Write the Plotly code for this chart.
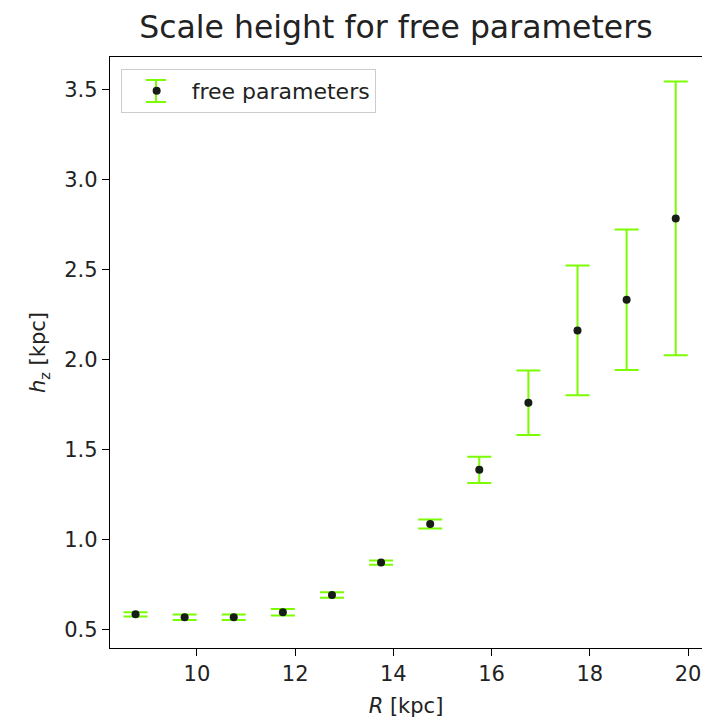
import plotly.graph_objects as go

R = [8.75, 9.75, 10.75, 11.75, 12.75, 13.75, 14.75, 15.75, 16.75, 17.75, 18.75, 19.75]
hz = [0.587, 0.571, 0.571, 0.598, 0.694, 0.874, 1.089, 1.389, 1.761, 2.163, 2.333, 2.785]
hz_err = [0.012, 0.015, 0.015, 0.018, 0.015, 0.012, 0.025, 0.073, 0.179, 0.36, 0.39, 0.76]

x_ticks = [10, 12, 14, 16, 18, 20]
y_ticks = [0.5, 1.0, 1.5, 2.0, 2.5, 3.0, 3.5]

font = "DejaVu Sans"
err_color = "#7cfc00"

fig = go.Figure()
fig.add_trace(go.Scatter(
    x=R, y=hz, mode="markers", name="free parameters",
    marker=dict(color="#151d15", size=8),
    error_y=dict(type="data", array=hz_err, visible=True,
                 color=err_color, thickness=2, width=12),
))

axis_common = dict(showline=True, linecolor="black", linewidth=1.3, mirror=True,
                   ticks="outside", ticklen=7, tickwidth=1.3, tickcolor="black",
                   showgrid=False, zeroline=False,
                   tickfont=dict(family=font, size=21, color="#222"))

fig.update_xaxes(range=[8.23, 20.285], tickvals=x_ticks, ticktext=[str(v) for v in x_ticks],
                 title=dict(text="<i>R</i> [kpc]", font=dict(family=font, size=21, color="#222"), standoff=12),
                 **axis_common)
fig.update_yaxes(range=[0.400, 3.681], tickvals=y_ticks, ticktext=[f"{v:.1f}" for v in y_ticks],
                 title=dict(text="<i>h</i><sub>z</sub> [kpc]", font=dict(family=font, size=21, color="#222"), standoff=12),
                 **axis_common)

# error-bar glyph for the legend entry (legend decoration in paper coordinates)
gx = 0.0777
gy0, gy1 = 0.9239, 0.9611
gw = 0.017
for sh in [
    dict(x0=gx, x1=gx, y0=gy0, y1=gy1),
    dict(x0=gx - gw, x1=gx + gw, y0=gy0, y1=gy0),
    dict(x0=gx - gw, x1=gx + gw, y0=gy1, y1=gy1),
]:
    fig.add_shape(type="line", xref="paper", yref="paper", layer="above",
                  line=dict(color=err_color, width=2), **sh)

fig.update_layout(
    width=702, height=721,
    margin=dict(l=110, r=0, t=57, b=73),
    paper_bgcolor="white", plot_bgcolor="white",
    title=dict(text="Scale height for free parameters", x=0.564, xanchor="center",
               y=1 - 27 / 721, yanchor="middle", yref="container",
               font=dict(family=font, size=31.5, color="#222")),
    showlegend=True,
    legend=dict(x=0.018, y=0.9797, xanchor="left", yanchor="top",
                bordercolor="#cccccc", borderwidth=1, bgcolor="rgba(0,0,0,0)",
                itemwidth=60,
                font=dict(family=font, size=22, color="#222")),
)

fig.write_html("out.html")
